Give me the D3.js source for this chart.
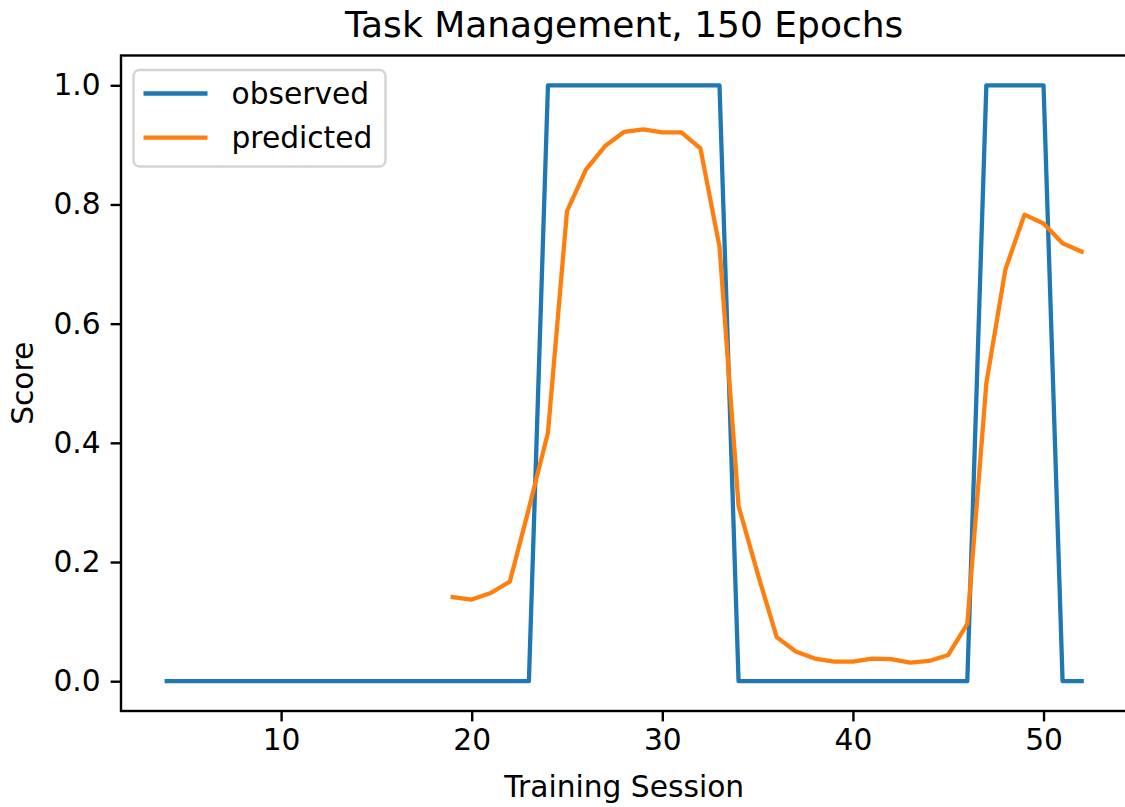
<!DOCTYPE html>
<html>
<head>
<meta charset="utf-8">
<script src="https://cdn.jsdelivr.net/npm/d3@7"></script>
<style>
  html, body { margin: 0; padding: 0; background: #fff; }
  svg { display: block; font-family: "DejaVu Sans", sans-serif; }
</style>
</head>
<body>
<svg id="chart" width="1125" height="807"></svg>
<script>
// ---- data ----
const sessions = [4,5,6,7,8,9,10,11,12,13,14,15,16,17,18,19,20,21,22,23,24,25,26,27,28,29,30,31,32,33,34,35,36,37,38,39,40,41,42,43,44,45,46,47,48,49,50,51,52];
const observed = [0,0,0,0,0,0,0,0,0,0,0,0,0,0,0,0,0,0,0,0,1,1,1,1,1,1,1,1,1,1,0,0,0,0,0,0,0,0,0,0,0,0,0,1,1,1,1,0,0];
const predicted = [null,null,null,null,null,null,null,null,null,null,null,null,null,null,null,
  0.141,0.137,0.148,0.167,0.29,0.417,0.789,0.859,0.898,0.922,0.926,0.921,0.921,0.894,0.729,
  0.294,0.181,0.074,0.050,0.038,0.033,0.033,0.038,0.037,0.031,0.034,0.044,0.096,0.50,0.691,0.783,0.768,0.735,0.721];
const xTicks = [10,20,30,40,50];
const yTicks = [0.0,0.2,0.4,0.6,0.8,1.0];
const seriesNames = ["observed","predicted"];
const seriesColors = ["#1f77b4","#ff7f0e"];
const titleText = "Task Management, 150 Epochs";
const xLabel = "Training Session";
const yLabel = "Score";

// ---- layout ----
const plot = {left:121, top:55.5, right:1127.4, bottom:711};
const svg = d3.select("#chart");

const x = d3.scaleLinear().domain([1.6, 54.4]).range([plot.left, plot.right]);
const y = d3.scaleLinear().domain([-0.05, 1.05]).range([plot.bottom, plot.top]);

const lw = 4.3;
const axisW = 2.4;
const tickLen = 10.4;
const fs = 29.7;

// lines
const seriesData = [observed, predicted];
seriesData.forEach((vals, i) => {
  const pts = sessions.map((s, j) => ({s, v: vals[j]}));
  const line = d3.line().defined(d => d.v !== null).x(d => x(d.s)).y(d => y(d.v));
  svg.append("path")
    .datum(pts)
    .attr("d", line)
    .attr("fill", "none")
    .attr("stroke", seriesColors[i])
    .attr("stroke-width", lw)
    .attr("stroke-linejoin", "round")
    .attr("stroke-linecap", "square");
});

// axes
const xAxis = d3.axisBottom(x).tickValues(xTicks).tickFormat(d3.format("d")).tickSizeOuter(0).tickSize(tickLen).tickPadding(8);
const gx = svg.append("g").attr("transform", `translate(0,${plot.bottom})`).call(xAxis);
gx.select(".domain").remove();
gx.selectAll(".tick line").attr("stroke", "#000").attr("stroke-width", axisW);
gx.selectAll(".tick text").attr("font-size", fs).attr("fill", "#000").attr("font-family", "DejaVu Sans");

const yAxis = d3.axisLeft(y).tickValues(yTicks).tickFormat(d3.format(".1f")).tickSizeOuter(0).tickSize(tickLen).tickPadding(10);
const gy = svg.append("g").attr("transform", `translate(${plot.left},0)`).call(yAxis);
gy.select(".domain").remove();
gy.selectAll(".tick line").attr("stroke", "#000").attr("stroke-width", axisW);
gy.selectAll(".tick text").attr("font-size", fs).attr("fill", "#000").attr("font-family", "DejaVu Sans");

// spines
svg.append("rect")
  .attr("x", plot.left).attr("y", plot.top)
  .attr("width", plot.right - plot.left).attr("height", plot.bottom - plot.top)
  .attr("fill", "none").attr("stroke", "#000").attr("stroke-width", axisW);

// title and labels
svg.append("text").attr("x", (plot.left + plot.right) / 2).attr("y", 37)
  .attr("text-anchor", "middle").attr("font-size", 36).attr("fill", "#000").text(titleText);
svg.append("text").attr("x", (plot.left + plot.right) / 2).attr("y", 797)
  .attr("text-anchor", "middle").attr("font-size", fs).attr("fill", "#000").text(xLabel);
svg.append("text").attr("transform", `translate(33,${(plot.top + plot.bottom) / 2}) rotate(-90)`)
  .attr("text-anchor", "middle").attr("font-size", fs).attr("fill", "#000").text(yLabel);

// legend
const lg = svg.append("g");
lg.append("rect").attr("x", 133.5).attr("y", 70).attr("width", 252).attr("height", 96.5)
  .attr("rx", 6).attr("ry", 6)
  .attr("fill", "rgba(255,255,255,0.8)").attr("stroke", "#d4d4d4").attr("stroke-width", 2.4);
const legY = [93.5, 137.7];
seriesNames.forEach((name, i) => {
  lg.append("line").attr("x1", 143.5).attr("x2", 207.5).attr("y1", legY[i]).attr("y2", legY[i])
    .attr("stroke", seriesColors[i]).attr("stroke-width", lw).attr("stroke-linecap", "butt");
  lg.append("text").attr("x", 231.5).attr("y", legY[i] + 10.5)
    .attr("font-size", fs).attr("fill", "#000").text(name);
});
</script>
</body>
</html>
